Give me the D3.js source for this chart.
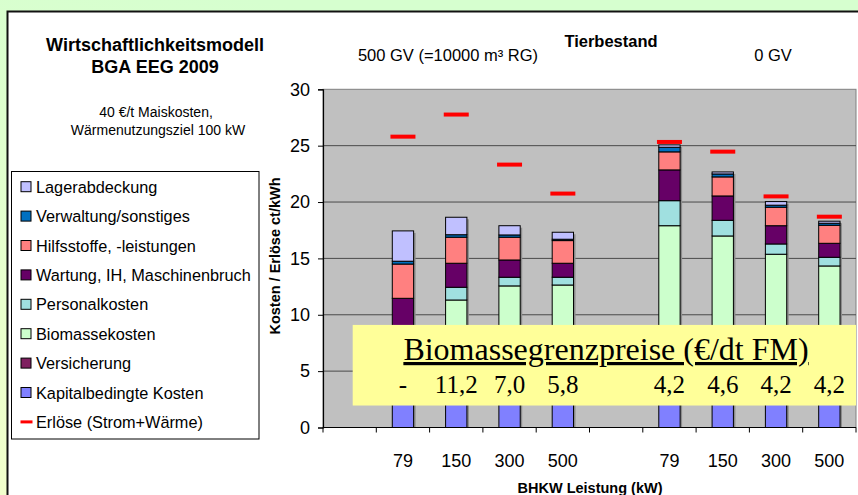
<!DOCTYPE html>
<html><head><meta charset="utf-8">
<script src="https://cdn.jsdelivr.net/npm/d3@7"></script>
<style>html,body{margin:0;padding:0;overflow:hidden;}svg{display:block;font-family:Arial,"Liberation Sans",sans-serif;}</style>
</head><body>
<svg id="chart" width="858" height="495"></svg>
<script>
// ---- data ----
const categories = ["", "79", "150", "300", "500", "", "79", "150", "300", "500"];
const seriesNames = ["Kapitalbedingte Kosten", "Versicherung", "Biomassekosten", "Personalkosten",
  "Wartung, IH, Maschinenbruch", "Hilfsstoffe, -leistungen", "Verwaltung/sonstiges", "Lagerabdeckung"];
const seriesColors = ["#8080FF", "#7F2060", "#CCFFCC", "#A0E0E0", "#660066", "#FF8080", "#0070C0", "#C0C0FF"];
const kapital      = [0, 7.0, 5.5, 4.5, 4.2, 0, 4.5, 3.8, 3.2, 3.0];
const versicherung = [0, 0.4, 0.4, 0.3, 0.3, 0, 0.4, 0.3, 0.3, 0.2];
const biomasse     = [0, 0.0, 5.41, 7.76, 8.14, 0, 13.0, 12.89, 11.87, 11.13];
const personal     = [0, 1.0, 1.13, 0.77, 0.69, 0, 2.22, 1.39, 0.91, 0.77];
const wartung      = [0, 3.06, 2.13, 1.53, 1.24, 0, 2.73, 2.16, 1.62, 1.24];
const hilfsstoffe  = [0, 3.04, 2.31, 2.02, 2.01, 0, 1.60, 1.69, 1.64, 1.60];
const verwaltung   = [0, 0.25, 0.22, 0.20, 0.12, 0, 0.41, 0.26, 0.18, 0.18];
const lager        = [0, 2.69, 1.55, 0.82, 0.62, 0, 0.21, 0.18, 0.32, 0.18];
const erloese      = [null, 25.8, 27.76, 23.32, 20.75, null, 25.33, 24.47, 20.5, 18.7];
const grenzpreise  = [null, "-", "11,2", "7,0", "5,8", null, "4,2", "4,6", "4,2", "4,2"];
const yTicks = [0, 5, 10, 15, 20, 25, 30];
const seriesValues = [kapital, versicherung, biomasse, personal, wartung, hilfsstoffe, verwaltung, lager];

const svg = d3.select("#chart");
// background gradient
const defs = svg.append("defs");
const grad = defs.append("linearGradient").attr("id", "bg").attr("x1", 0.3).attr("y1", 0).attr("x2", 0).attr("y2", 1);
grad.append("stop").attr("offset", "0%").attr("stop-color", "#D6FFCF");
grad.append("stop").attr("offset", "100%").attr("stop-color", "#F2FFCC");
svg.append("rect").attr("width", 858).attr("height", 495).attr("fill", "url(#bg)");
svg.append("rect").attr("x", 7.5).attr("y", 11.5).attr("width", 870).attr("height", 500)
  .attr("fill", "#fff").attr("stroke", "#111").attr("stroke-width", 2);

// scales
const plot = {left: 323, right: 856, top: 89.3, bottom: 427.5};
const x = d3.scaleBand().domain(d3.range(categories.length)).range([plot.left, plot.right])
  .paddingInner(0.6).paddingOuter(0.3);
const y = d3.scaleLinear().domain([0, 30]).range([plot.bottom, plot.top]);

// plot area
svg.append("rect").attr("x", plot.left).attr("y", plot.top).attr("width", plot.right - plot.left)
  .attr("height", plot.bottom - plot.top).attr("fill", "#C0C0C0").attr("stroke", "#808080").attr("stroke-width", 1);
svg.append("g").selectAll("line").data(yTicks.filter(d => d > 0 && d < 30)).join("line")
  .attr("x1", plot.left).attr("x2", plot.right).attr("y1", d => y(d)).attr("y2", d => y(d))
  .attr("stroke", "#4a4a4a").attr("stroke-width", 1);

// stacked bars
const stackData = categories.map((c, i) => {
  const o = {i};
  seriesNames.forEach((s, k) => o[s] = seriesValues[k][i]);
  return o;
});
const stack = d3.stack().keys(seriesNames)(stackData);
const bw = x.bandwidth();
const totals = stackData.map(d => d3.sum(seriesNames, s => d[s]));
// bar shadows
svg.append("g").selectAll("rect").data(totals.map((t, i) => ({t, i})).filter(d => d.t > 0)).join("rect")
  .attr("x", d => x(d.i) + 2).attr("width", bw).attr("y", d => y(d.t) + 2)
  .attr("height", d => y(0) - y(d.t) - 2).attr("fill", "#8c8c8c");
svg.append("g").selectAll("g").data(stack).join("g")
  .attr("fill", (d, k) => seriesColors[k])
  .selectAll("rect").data(d => d.filter(p => p[1] - p[0] > 0)).join("rect")
  .attr("x", d => x(d.data.i)).attr("width", bw)
  .attr("y", d => y(d[1])).attr("height", d => y(d[0]) - y(d[1]))
  .attr("stroke", "#000").attr("stroke-width", 1);

// Erlöse markers
svg.append("g").selectAll("line").data(erloese.map((v, i) => ({v, i})).filter(d => d.v != null)).join("line")
  .attr("x1", d => x(d.i) + bw / 2 - 12.5).attr("x2", d => x(d.i) + bw / 2 + 12.5)
  .attr("y1", d => y(d.v)).attr("y2", d => y(d.v))
  .attr("stroke", "#FF0000").attr("stroke-width", 4);

// axes
const yAxis = svg.append("g").attr("transform", `translate(${plot.left},0)`)
  .call(d3.axisLeft(y).tickValues(yTicks).tickSize(5).tickPadding(8));
yAxis.select(".domain").attr("stroke", "#000").attr("stroke-width", 1.2);
yAxis.selectAll("text").attr("font-size", 18).attr("fill", "#000").attr("font-family", "Arial, Liberation Sans, sans-serif");
const step = x.step();
const boundaries = d3.range(categories.length + 1).map(k => x(0) - step * x.paddingOuter() + k * step);
const xg = svg.append("g");
xg.append("line").attr("x1", plot.left).attr("x2", plot.right).attr("y1", plot.bottom).attr("y2", plot.bottom)
  .attr("stroke", "#000").attr("stroke-width", 1.2);
xg.selectAll("line.t").data(boundaries).join("line").attr("class", "t")
  .attr("x1", d => d).attr("x2", d => d).attr("y1", plot.bottom).attr("y2", plot.bottom + 5)
  .attr("stroke", "#000");
xg.selectAll("text").data(categories.map((c, i) => ({c, i}))).join("text")
  .attr("x", d => x(d.i) + bw / 2).attr("y", 467).attr("text-anchor", "middle")
  .attr("font-size", 18).text(d => d.c);

// axis titles
svg.append("text").attr("x", 590).attr("y", 493).attr("text-anchor", "middle")
  .attr("font-size", 14.5).attr("font-weight", "bold").text("BHKW Leistung (kW)");
svg.append("text").attr("transform", "translate(280,256) rotate(-90)").attr("text-anchor", "middle")
  .attr("font-size", 14.5).attr("font-weight", "bold").text("Kosten / Erlöse ct/kWh");

// header
svg.append("text").attr("x", 611).attr("y", 47).attr("text-anchor", "middle")
  .attr("font-size", 16.5).attr("font-weight", "bold").text("Tierbestand");
svg.append("text").attr("x", 448).attr("y", 61).attr("text-anchor", "middle")
  .attr("font-size", 16.5).text("500 GV (=10000 m³ RG)");
svg.append("text").attr("x", 773).attr("y", 61).attr("text-anchor", "middle")
  .attr("font-size", 16.5).text("0 GV");

// titles left
svg.append("text").attr("x", 155).attr("y", 51).attr("text-anchor", "middle")
  .attr("font-size", 18).attr("font-weight", "bold").text("Wirtschaftlichkeitsmodell");
svg.append("text").attr("x", 155).attr("y", 73).attr("text-anchor", "middle")
  .attr("font-size", 18).attr("font-weight", "bold").text("BGA EEG 2009");
svg.append("text").attr("x", 156).attr("y", 117).attr("text-anchor", "middle")
  .attr("font-size", 14).text("40 €/t Maiskosten,");
svg.append("text").attr("x", 158).attr("y", 135).attr("text-anchor", "middle")
  .attr("font-size", 14).text("Wärmenutzungsziel 100 kW");

// legend
svg.append("rect").attr("x", 11.5).attr("y", 171.5).attr("width", 247.5).attr("height", 267.5)
  .attr("fill", "#fff").attr("stroke", "#000");
const legendItems = seriesNames.map((s, k) => ({s, c: seriesColors[k], type: "rect"})).reverse()
  .concat([{s: "Erlöse (Strom+Wärme)", c: "#FF0000", type: "line"}]);
const lg = svg.append("g").selectAll("g").data(legendItems).join("g")
  .attr("transform", (d, i) => `translate(0,${186.7 + i * 29.4})`);
lg.filter(d => d.type === "rect").append("rect").attr("x", 21).attr("y", -5).attr("width", 10).attr("height", 10)
  .attr("fill", d => d.c).attr("stroke", "#000").attr("stroke-width", 1);
lg.filter(d => d.type === "line").append("line").attr("x1", 20.5).attr("x2", 32.5).attr("y1", 0).attr("y2", 0)
  .attr("stroke", d => d.c).attr("stroke-width", 3);
lg.append("text").attr("x", 36).attr("y", 6).attr("font-size", 16.3).text(d => d.s);

// Biomassegrenzpreise box
const box = svg.append("g");
box.append("rect").attr("x", 352.7).attr("y", y(9.1)).attr("width", plot.right - 352.7)
  .attr("height", y(1.95) - y(9.1)).attr("fill", "#FFFF99");
box.append("text").attr("x", 606).attr("y", 360).attr("text-anchor", "middle")
  .attr("font-family", "Liberation Serif, Times New Roman, serif").attr("font-size", 32)
  .attr("text-decoration", "underline").text("Biomassegrenzpreise (€/dt FM)");
box.selectAll("text.gp").data(grenzpreise.map((g, i) => ({g, i})).filter(d => d.g != null)).join("text")
  .attr("class", "gp").attr("x", d => x(d.i) + bw / 2).attr("y", 393).attr("text-anchor", "middle")
  .attr("font-family", "Liberation Serif, Times New Roman, serif").attr("font-size", 25).text(d => d.g);
</script>
</body></html>
